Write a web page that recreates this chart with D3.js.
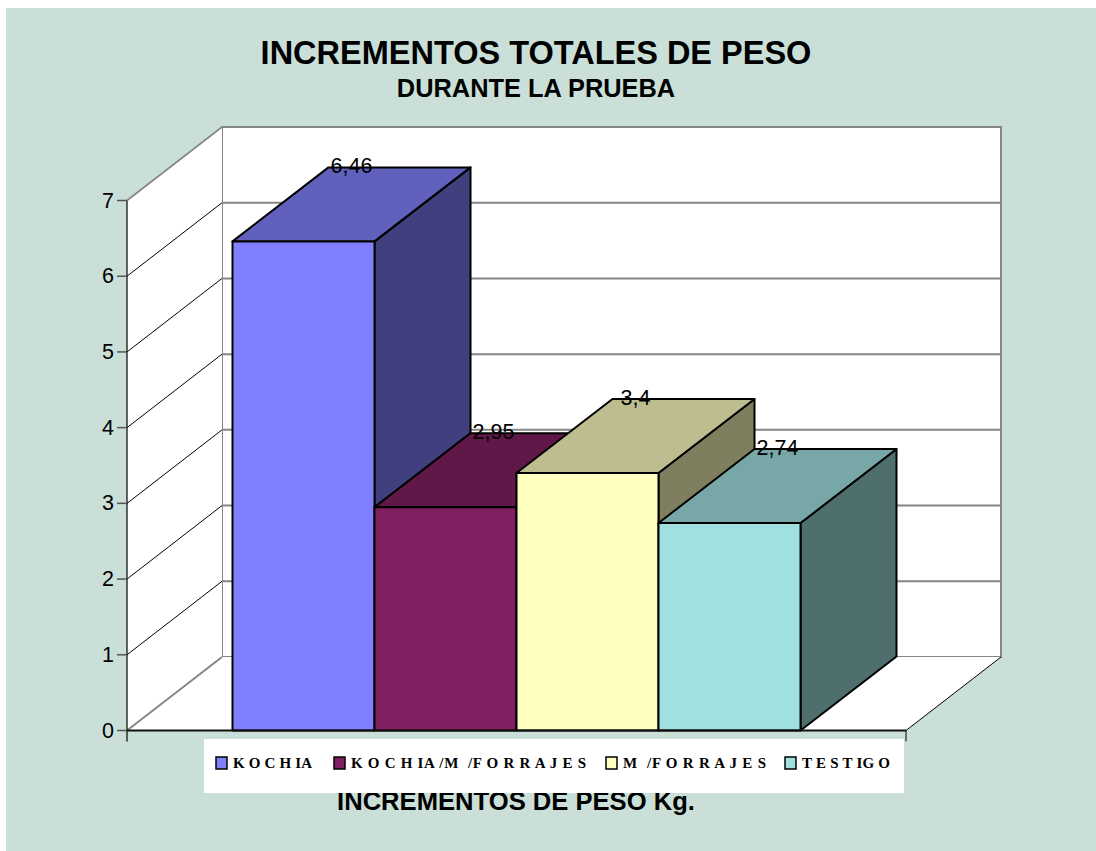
<!DOCTYPE html>
<html>
<head>
<meta charset="utf-8">
<script src="https://cdnjs.cloudflare.com/ajax/libs/d3/7.8.5/d3.min.js"></script>
<style>
html, body { margin: 0; padding: 0; background: #fff; }
svg { display: block; }
text { font-family: "Liberation Sans", Arial, sans-serif; fill: #000; }
</style>
</head>
<body>
<div id="chart"></div>
<script>
var categories = ["KOCHIA", "KOCHIA/M/FORRAJES", "M/FORRAJES", "TESTIGO"];
var values = [6.46, 2.95, 3.4, 2.74];
var valueLabels = ["6,46", "2,95", "3,4", "2,74"];
var yTicks = [0, 1, 2, 3, 4, 5, 6, 7];
var frontColors = ["#8080ff", "#802060", "#ffffc0", "#a0e0e0"];
var topColors = ["#6060bd", "#5f1847", "#bdbd8f", "#77a7a7"];
var sideColors = ["#40407f", "#400f30", "#7f7f5f", "#4f6f6f"];
var legendLabels = ["K O C H IA", "K O C H IA /M  /F O R R A J E S", "M  /F O R R A J E S", "T E S T IG O"];

var w = 1096, h = 851;
var left = 127, right = 906;
var depthX = 95, depthY = -73.5;
var barDepthX = 96, barDepthY = -74;

var svg = d3.select("#chart").append("svg")
    .attr("width", w)
    .attr("height", h);

svg.append("rect")
    .attr("x", 6).attr("y", 8)
    .attr("width", w - 6).attr("height", h - 8)
    .attr("fill", "#c9dfd8");

var y = d3.scaleLinear().domain([0, 7]).range([730.5, 200.5]);
var x = d3.scaleBand().domain(categories).range([232.5, 800.5]);

function pts(list) {
    return list.map(function(p) { return p.join(","); }).join(" ");
}

// Back wall, side wall and floor
svg.append("polygon")
    .attr("points", pts([[left + depthX, y(7) + depthY], [right + depthX, y(7) + depthY], [right + depthX, y(0) + depthY], [left + depthX, y(0) + depthY]]))
    .attr("fill", "#fff").attr("stroke", "#868686").attr("stroke-width", 2);

svg.append("polygon")
    .attr("points", pts([[left, y(0)], [left + depthX, y(0) + depthY], [left + depthX, y(7) + depthY], [left, y(7)]]))
    .attr("fill", "#fff");

svg.append("polygon")
    .attr("points", pts([[left, y(0)], [right, y(0)], [right + depthX, y(0) + depthY], [left + depthX, y(0) + depthY]]))
    .attr("fill", "#fff");

// Gridlines on the back wall and the side wall
svg.append("g").selectAll("line")
    .data(yTicks.slice(1, -1))
    .enter().append("line")
    .attr("x1", left + depthX).attr("x2", right + depthX)
    .attr("y1", d => y(d) + depthY).attr("y2", d => y(d) + depthY)
    .attr("stroke", "#868686").attr("stroke-width", 2);

svg.append("g").selectAll("line")
    .data(yTicks.slice(1, -1))
    .enter().append("line")
    .attr("x1", left).attr("x2", left + depthX)
    .attr("y1", d => y(d)).attr("y2", d => y(d) + depthY)
    .attr("stroke", "#000").attr("stroke-width", 1);

// Wall edges
svg.append("line")
    .attr("x1", left).attr("y1", y(7))
    .attr("x2", left + depthX).attr("y2", y(7) + depthY)
    .attr("stroke", "#868686").attr("stroke-width", 1.6);
svg.append("line")
    .attr("x1", left).attr("y1", y(0))
    .attr("x2", left + depthX).attr("y2", y(0) + depthY)
    .attr("stroke", "#868686").attr("stroke-width", 2);
svg.append("line")
    .attr("x1", right).attr("y1", y(0))
    .attr("x2", right + depthX).attr("y2", y(0) + depthY)
    .attr("stroke", "#000").attr("stroke-width", 1);

// Value axis, tick labels
svg.append("line")
    .attr("x1", left).attr("x2", left)
    .attr("y1", y(7)).attr("y2", y(0) + 11)
    .attr("stroke", "#000").attr("stroke-width", 1.2);
svg.append("g").selectAll("line")
    .data(yTicks)
    .enter().append("line")
    .attr("x1", left - 10).attr("x2", left)
    .attr("y1", d => y(d)).attr("y2", d => y(d))
    .attr("stroke", "#555").attr("stroke-width", 1.5);
svg.append("g").selectAll("text")
    .data(yTicks)
    .enter().append("text")
    .attr("x", left - 13)
    .attr("y", d => y(d) + 7)
    .attr("text-anchor", "end")
    .attr("font-size", 21.5)
    .text(d => d);

// Bars (front, top, side)
var bars = svg.append("g").selectAll("g")
    .data(categories)
    .enter().append("g")
    .attr("stroke", "#000")
    .attr("stroke-width", 2)
    .attr("stroke-linejoin", "round");

bars.append("polygon")
    .attr("fill", (d, i) => sideColors[i])
    .attr("points", function(d, i) {
        var x1 = x(d) + x.bandwidth();
        return pts([[x1, y(values[i])], [x1 + barDepthX, y(values[i]) + barDepthY], [x1 + barDepthX, y(0) + barDepthY], [x1, y(0)]]);
    });
bars.append("polygon")
    .attr("fill", (d, i) => topColors[i])
    .attr("points", function(d, i) {
        var x0 = x(d), x1 = x0 + x.bandwidth();
        return pts([[x0, y(values[i])], [x1, y(values[i])], [x1 + barDepthX, y(values[i]) + barDepthY], [x0 + barDepthX, y(values[i]) + barDepthY]]);
    });
bars.append("rect")
    .attr("fill", (d, i) => frontColors[i])
    .attr("x", d => x(d))
    .attr("width", x.bandwidth())
    .attr("y", (d, i) => y(values[i]))
    .attr("height", (d, i) => y(0) - y(values[i]));

// Floor front edge and right tick
svg.append("line")
    .attr("x1", left).attr("x2", right)
    .attr("y1", y(0)).attr("y2", y(0))
    .attr("stroke", "#111").attr("stroke-width", 2);
svg.append("line")
    .attr("x1", right).attr("x2", right)
    .attr("y1", y(0)).attr("y2", y(0) + 11)
    .attr("stroke", "#000").attr("stroke-width", 1);

// Value labels
svg.append("g").selectAll("text")
    .data(categories)
    .enter().append("text")
    .attr("x", d => x(d) + 119)
    .attr("y", (d, i) => y(values[i]) + barDepthY + 6)
    .attr("text-anchor", "middle")
    .attr("font-size", 21.5)
    .text((d, i) => valueLabels[i]);

// Titles
svg.append("text")
    .attr("x", 536).attr("y", 64)
    .attr("text-anchor", "middle")
    .attr("font-size", 32.5).attr("font-weight", "bold")
    .text("INCREMENTOS TOTALES DE PESO");
svg.append("text")
    .attr("x", 536).attr("y", 97)
    .attr("text-anchor", "middle")
    .attr("font-size", 25.4).attr("font-weight", "bold")
    .text("DURANTE LA PRUEBA");
svg.append("text")
    .attr("x", 516).attr("y", 810)
    .attr("text-anchor", "middle")
    .attr("font-size", 25.6).attr("font-weight", "bold")
    .text("INCREMENTOS DE PESO Kg.");

// Legend
var legendX = [216, 334, 606, 785];
var legendTextW = [79, 235, 143, 88];
svg.append("rect")
    .attr("x", 204).attr("y", 739)
    .attr("width", 700).attr("height", 54)
    .attr("fill", "#fff");
var legend = svg.append("g").selectAll("g")
    .data(legendLabels)
    .enter().append("g")
    .attr("transform", (d, i) => "translate(" + legendX[i] + ",757)");
legend.append("rect")
    .attr("width", 11).attr("height", 12)
    .attr("fill", (d, i) => frontColors[i])
    .attr("stroke", "#000").attr("stroke-width", 1.5);
legend.append("text")
    .attr("x", 17).attr("y", 11)
    .attr("font-size", 15).attr("font-weight", "bold")
    .attr("textLength", (d, i) => legendTextW[i])
    .attr("lengthAdjust", "spacing")
    .style("font-family", "'Liberation Serif', serif")
    .style("white-space", "pre")
    .text(d => d);
</script>
</body>
</html>
